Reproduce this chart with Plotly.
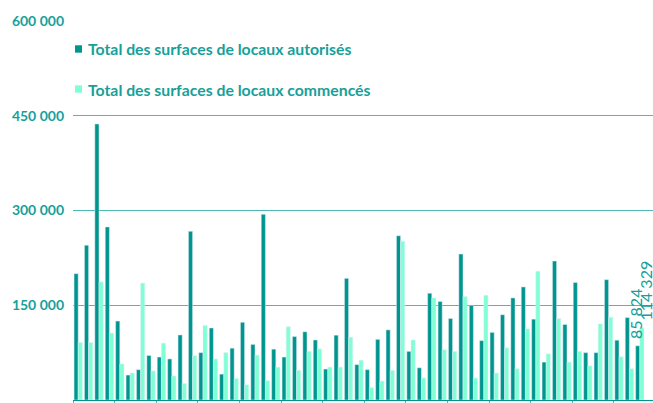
import plotly.graph_objects as go

# Values (m²)
autorises = [200000, 245000, 437000, 274000, 125000, 39500, 48000, 70500, 68000, 65000,
             103000, 267000, 75000, 114000, 41000, 82000, 123000, 88000, 294000, 80500,
             68000, 100500, 108000, 95000, 49000, 102600, 192600, 56000, 48000, 96000,
             111000, 260000, 77000, 51000, 169000, 156000, 129000, 231000, 150000, 94000,
             107000, 135000, 161600, 179000, 128000, 60000, 220000, 119500, 186000, 75000,
             75000, 190500, 94700, 130500, 85824]
commences = [91000, 91000, 187000, 106000, 57000, 42600, 185000, 46000, 90000, 38000,
             26000, 70000, 118000, 65000, 75000, 34000, 24000, 71000, 30500, 52000,
             116000, 47000, 77000, 81000, 52000, 52000, 99500, 63000, 19500, 30000,
             47000, 251500, 95000, 35000, 161600, 79500, 77000, 163700, 34700, 165800,
             42600, 82600, 49500, 112600, 204000, 73000, 129000, 60000, 77000, 54000,
             120500, 131000, 68400, 49500, 114329]
periodes = list(range(len(autorises)))
y_ticks = [0, 150000, 300000, 450000, 600000]
y_labels = ["0", "150 000", "300 000", "450 000", "600 000"]
noms = ["Total des surfaces de locaux autorisés", "Total des surfaces de locaux commencés"]

DARK = "#00968f"
LIGHT = "#7fffd4"
TXT = "#17a09a"
FONT = "Lato, 'Open Sans', sans-serif"

def fmt(v):
    return f"{v:,}".replace(",", " ")

fig = go.Figure()
fig.add_trace(go.Bar(x=periodes, y=autorises, name=noms[0], marker_color=DARK,
                     showlegend=False))
fig.add_trace(go.Bar(x=periodes, y=commences, name=noms[1], marker_color=LIGHT,
                     showlegend=False))

# value labels on the last period
for serie, dx in [(autorises, -5), (commences, 6)]:
    fig.add_annotation(x=periodes[-1], y=serie[-1], xref="x", yref="y",
                       text=fmt(serie[-1]), showarrow=False, textangle=-90,
                       xanchor="center", yanchor="bottom", xshift=dx, yshift=6,
                       borderpad=0,
                       font=dict(color=TXT, size=16, family=FONT))

# page body margin is removed (post_script), so the figure fills the window
W, H = 653, 403
L, R, T, B = 73, 0, 20.7, 3

def px_x(p):
    return (p - L) / (W - L - R)

def px_y(p):
    return 1 - (p - T) / (H - T - B)

# manual legend (small square markers, as in the reference)
for nm, col, cy in [(noms[0], DARK, 48.7), (noms[1], LIGHT, 88.8)]:
    fig.add_shape(type="rect", xref="paper", yref="paper",
                  x0=px_x(75), x1=px_x(82), y0=px_y(cy + 3.7), y1=px_y(cy - 3.7),
                  fillcolor=col, line_width=0)
    fig.add_annotation(xref="paper", yref="paper", x=px_x(85.5), y=px_y(cy),
                       xanchor="left", yanchor="middle", text=nm, showarrow=False,
                       font=dict(color=TXT, size=15.8, family=FONT, weight=700))

fig.update_layout(
    width=W, height=H, margin=dict(l=L, r=R, t=T, b=B, autoexpand=False),
    paper_bgcolor="white", plot_bgcolor="white",
    barmode="group", bargap=0.2, bargroupgap=0,
    font=dict(family=FONT, color=TXT),
)
fig.update_xaxes(range=[-0.5, -0.5 + (W - L - R) / 10.4], showgrid=False,
                 showline=True, linecolor=DARK, linewidth=1,
                 tickmode="array", tickvals=[-0.5 + 4 * j for j in range(15)],
                 ticktext=[""] * 15, ticks="outside", ticklen=3, tickcolor="#4db6b0",
                 zeroline=False, automargin=False)
fig.update_yaxes(range=[0, 600000], tickmode="array", tickvals=y_ticks, ticktext=y_labels,
                 showgrid=True, gridcolor="#4fb8b2", gridwidth=1.3, zeroline=False,
                 showline=False, ticks="", ticklabelstandoff=8, automargin=False,
                 tickfont=dict(color=TXT, size=14, family=FONT, weight=700))

fig.write_html("out.html",
               config={"displayModeBar": False},
               post_script="document.body.style.margin='0';"
                           "document.body.style.overflow='hidden';")
